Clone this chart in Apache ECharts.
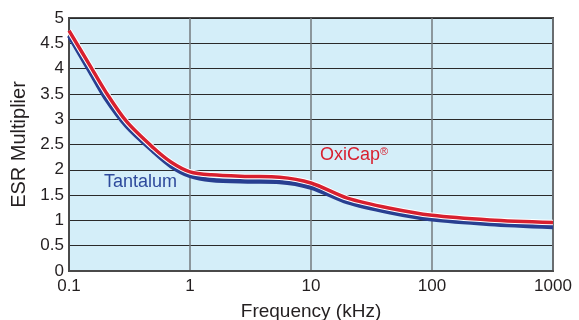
<!DOCTYPE html>
<html>
<head>
<meta charset="utf-8">
<script src="https://cdn.jsdelivr.net/npm/echarts@6/dist/echarts.min.js"></script>
<style>
  html, body { margin: 0; padding: 0; background: #fff; }
  #chart { width: 579px; height: 320px; }
</style>
</head>
<body>
<div id="chart"></div>
<script>
// frequency points (kHz)
const freqs = [0.1, 0.15, 0.2, 0.3, 0.5, 0.7, 1, 1.5, 3, 5.5, 10, 20, 45, 100, 300, 1000];
const oxicap = [4.75, 4.05, 3.55, 2.95, 2.43, 2.15, 1.96, 1.9, 1.87, 1.855, 1.74, 1.44, 1.24, 1.1, 1.01, 0.96];
const tantalum = [4.65, 3.93, 3.42, 2.86, 2.36, 2.07, 1.88, 1.8, 1.77, 1.76, 1.65, 1.36, 1.16, 1.02, 0.93, 0.87];
const xTickLabels = ['0.1', '1', '10', '100', '1000'];
const names = ['OxiCap', 'Tantalum'];

const pairs = (ys) => freqs.map((f, i) => [f, ys[i]]);

const chart = echarts.init(document.getElementById('chart'));

const txt = '#231f20';
const font = '"Liberation Sans", Arial, sans-serif';

let option = {
  animation: false,
  textStyle: { fontFamily: font },
  grid: {
    left: 69, right: 26, top: 18, bottom: 49,
    outerBoundsMode: 'none',
    containLabel: false,
    show: true,
    backgroundColor: '#d4eef9',
    borderColor: '#4a4a4a',
    borderWidth: 2
  },
  xAxis: {
    type: 'log',
    logBase: 10,
    min: 0.1,
    max: 1000,
    name: 'Frequency (kHz)',
    nameLocation: 'middle',
    nameGap: 31,
    nameTextStyle: { color: txt, fontSize: 19, fontFamily: font },
    axisLine: { show: true, lineStyle: { color: '#4a4a4a', width: 2 } },
    axisTick: { show: false },
    axisLabel: {
      color: txt, fontSize: 17, margin: 7, fontFamily: font,
      formatter: (v, i) => xTickLabels[i]
    },
    splitLine: { show: true, lineStyle: { color: '#747a7e', width: 1.5 } },
    minorTick: { show: false },
    minorSplitLine: { show: false }
  },
  yAxis: {
    type: 'value',
    min: 0,
    max: 5,
    interval: 0.5,
    name: 'ESR Multiplier',
    nameLocation: 'middle',
    nameGap: 38,
    nameRotate: 90,
    nameTextStyle: { color: txt, fontSize: 20, fontFamily: font },
    axisLine: { show: true, lineStyle: { color: '#4a4a4a', width: 2 } },
    axisTick: { show: false },
    axisLabel: { color: txt, fontSize: 17, margin: 5, fontFamily: font },
    splitLine: { show: true, lineStyle: { color: '#2a2a2a', width: 1 } }
  },
  series: [
    {
      name: names[1],
      type: 'line',
      data: pairs(tantalum),
      smooth: 0.3,
      showSymbol: false,
      lineStyle: { color: '#283f91', width: 4.5 },
      z: 2
    },
    {
      name: names[0] + ' edge',
      type: 'line',
      data: pairs(oxicap),
      smooth: 0.3,
      showSymbol: false,
      lineStyle: { color: '#ffffff', width: 5.5 },
      z: 3
    },
    {
      name: names[0],
      type: 'line',
      data: pairs(oxicap),
      smooth: 0.3,
      showSymbol: false,
      lineStyle: { color: '#d8202f', width: 3.5 },
      z: 4
    }
  ],
  graphic: [
    {
      type: 'text', left: 104, top: 173, z: 10,
      style: { text: 'Tantalum', fill: '#2e4a9c', font: '18px ' + font }
    },
    {
      type: 'text', left: 320, top: 146, z: 10,
      style: {
        text: 'OxiCap{s|®}',
        fill: '#d8202f',
        font: '18px ' + font,
        rich: { s: { fontSize: 11, verticalAlign: 'top', fill: '#d8202f', padding: [0, 0, 8, 0] } }
      }
    }
  ]
};

chart.setOption(option);
window.addEventListener('resize', () => chart.resize());
</script>
</body>
</html>
